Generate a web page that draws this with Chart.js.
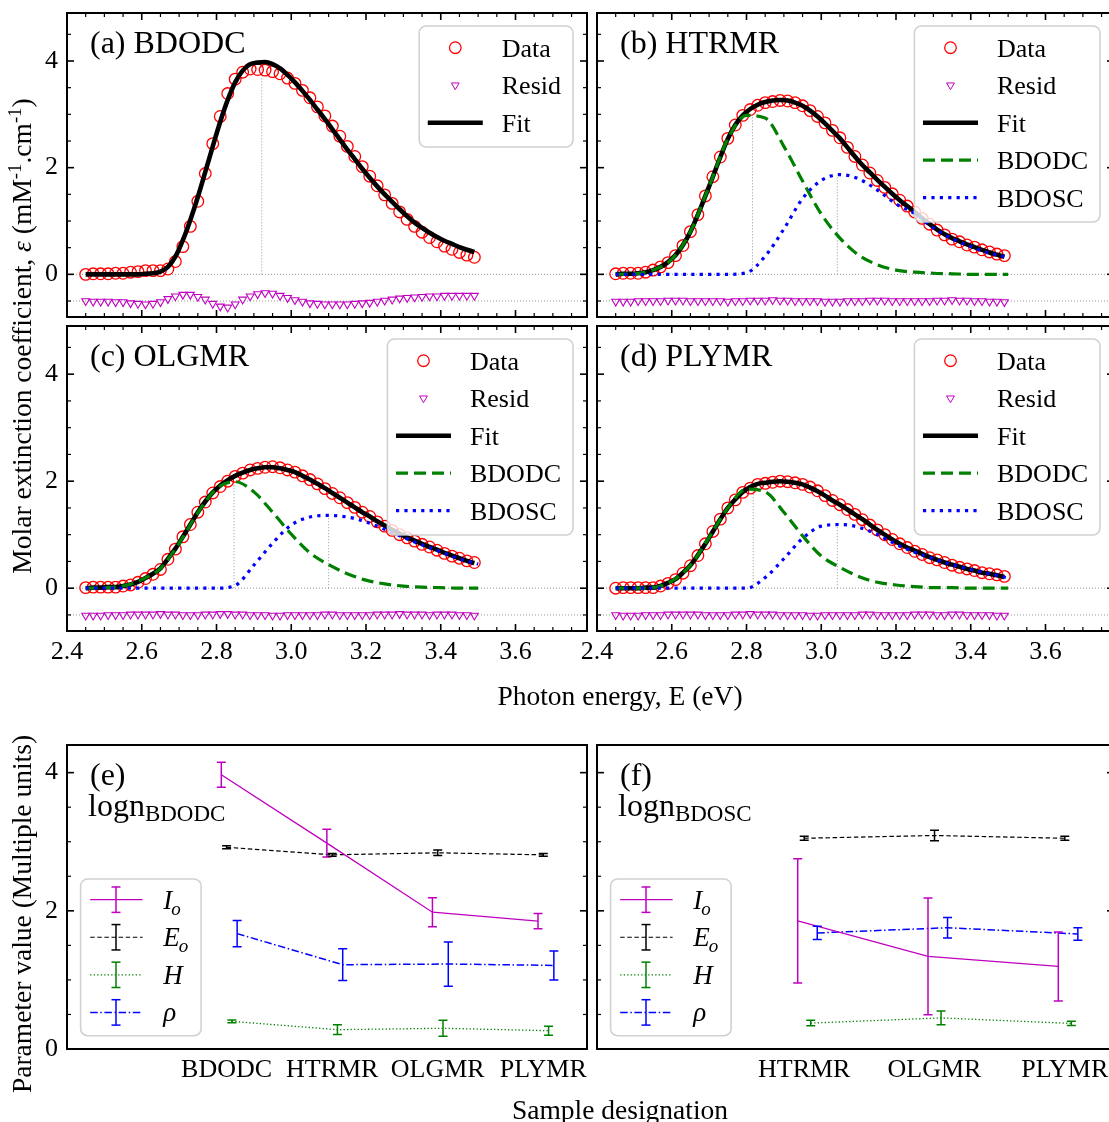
<!DOCTYPE html>
<html>
<head>
<meta charset="utf-8">
<title>Lognormal fits of the absorption bands</title>
<script src="https://cdn.jsdelivr.net/npm/chart.js@4.4.1/dist/chart.umd.min.js"></script>
<style>
  html, body { margin: 0; padding: 0; background: #fff; overflow: hidden; }
  body { position: relative; width: 1109px; height: 1122px; }
  canvas { position: absolute; }
  .txt { position: absolute; font-family: "Liberation Serif", serif; color: #000; white-space: nowrap; line-height: 1; font-size: 27.5px; }
  .rot { transform: translate(-50%, -50%) rotate(-90deg); }
  .ctr { transform: translate(-50%, -50%); }
  sup { font-size: 0.68em; vertical-align: 0.55em; line-height: 0; }
</style>
</head>
<body>
<canvas id="chartA"></canvas>
<canvas id="chartB"></canvas>
<canvas id="chartC"></canvas>
<canvas id="chartD"></canvas>
<canvas id="chartE"></canvas>
<canvas id="chartF"></canvas>
<div class="txt rot" style="left:22px; top:336px;">Molar extinction coefficient, <i>ε</i> (mM<sup>-1</sup>.cm<sup>-1</sup>)</div>
<div class="txt ctr" style="left:620px; top:696px;">Photon energy, E (eV)</div>
<div class="txt rot" style="left:22px; top:914px;">Parameter value (Multiple units)</div>
<div class="txt ctr" style="left:620px; top:1110px;">Sample designation</div>
<script>
Chart.defaults.font.family = '"Liberation Serif", "Times New Roman", serif';
Chart.defaults.font.size = 26;
Chart.defaults.color = '#000';

const RED = '#ff0000', MAGENTA = '#bf00bf', GREEN = '#008000', BLUE = '#0000ff';

// photon energy of the measured points (eV)
const energy = [2.45, 2.47, 2.49, 2.51, 2.53, 2.55, 2.57, 2.59, 2.61, 2.63,
                2.65, 2.67, 2.69, 2.71, 2.73, 2.75, 2.77, 2.79, 2.81, 2.83,
                2.85, 2.87, 2.89, 2.91, 2.93, 2.95, 2.97, 2.99, 3.01, 3.03,
                3.05, 3.07, 3.09, 3.11, 3.13, 3.15, 3.17, 3.19, 3.21, 3.23,
                3.25, 3.27, 3.29, 3.31, 3.33, 3.35, 3.37, 3.39, 3.41, 3.43,
                3.45, 3.47, 3.49];
// energy grid of the two lognormal components
const energyComp = [2.45, 2.50, 2.55, 2.60, 2.65, 2.70, 2.75, 2.80, 2.85, 2.90, 2.95,
                    3.00, 3.05, 3.10, 3.15, 3.20, 3.25, 3.30, 3.35, 3.40, 3.45, 3.50];
const energyTicks = [2.4, 2.6, 2.8, 3.0, 3.2, 3.4, 3.6];
const epsTicks = [0, 2, 4];
const residOffset = -0.5;

// (a) BDODC
const dataA = [0.00, 0.01, 0.01, 0.01, 0.02, 0.02, 0.04, 0.05, 0.07, 0.07,
               0.07, 0.10, 0.24, 0.52, 0.90, 1.37, 1.89, 2.45, 2.96, 3.39,
               3.66, 3.79, 3.85, 3.84, 3.83, 3.80, 3.76, 3.68, 3.58, 3.45,
               3.31, 3.14, 2.97, 2.78, 2.59, 2.40, 2.21, 2.02, 1.84, 1.66,
               1.49, 1.33, 1.17, 1.03, 0.90, 0.79, 0.69, 0.61, 0.53, 0.47,
               0.41, 0.36, 0.32];
const fitA = [0.00, 0.00, 0.00, 0.00, 0.00, 0.00, 0.00, 0.00, 0.01, 0.02,
              0.05, 0.14, 0.33, 0.64, 1.02, 1.45, 1.92, 2.40, 2.86, 3.27,
              3.60, 3.82, 3.94, 3.97, 3.98, 3.94, 3.86, 3.74, 3.60, 3.44,
              3.27, 3.09, 2.91, 2.72, 2.53, 2.34, 2.16, 1.98, 1.81, 1.65,
              1.50, 1.36, 1.22, 1.09, 0.97, 0.87, 0.78, 0.70, 0.63, 0.57,
              0.51, 0.46, 0.42];
const residA = [-0.50, -0.51, -0.51, -0.51, -0.52, -0.52, -0.54, -0.55, -0.56, -0.55,
                -0.52, -0.46, -0.41, -0.38, -0.38, -0.42, -0.47, -0.55, -0.60, -0.62,
                -0.56, -0.47, -0.41, -0.37, -0.35, -0.36, -0.40, -0.44, -0.48, -0.51,
                -0.54, -0.55, -0.56, -0.56, -0.56, -0.56, -0.55, -0.54, -0.53, -0.51,
                -0.49, -0.47, -0.45, -0.44, -0.43, -0.42, -0.41, -0.41, -0.40, -0.40,
                -0.40, -0.40, -0.40];
const peakEnergyA = [2.921];
const peakEpsA = [3.98];

// (b) HTRMR
const dataB = [0.01, 0.02, 0.02, 0.02, 0.04, 0.08, 0.14, 0.22, 0.35, 0.54,
               0.80, 1.12, 1.47, 1.83, 2.20, 2.55, 2.80, 2.98, 3.09, 3.17,
               3.22, 3.24, 3.26, 3.25, 3.22, 3.16, 3.07, 2.96, 2.84, 2.70,
               2.56, 2.38, 2.21, 2.05, 1.90, 1.76, 1.63, 1.51, 1.39, 1.28,
               1.17, 1.05, 0.94, 0.83, 0.74, 0.66, 0.61, 0.55, 0.51, 0.46,
               0.42, 0.38, 0.35];
const fitB = [0.00, 0.01, 0.01, 0.02, 0.04, 0.08, 0.14, 0.23, 0.36, 0.55,
              0.80, 1.12, 1.47, 1.83, 2.20, 2.54, 2.80, 2.98, 3.10, 3.18,
              3.23, 3.26, 3.27, 3.26, 3.22, 3.16, 3.07, 2.96, 2.83, 2.69,
              2.55, 2.38, 2.21, 2.05, 1.91, 1.77, 1.64, 1.51, 1.39, 1.28,
              1.17, 1.05, 0.94, 0.84, 0.75, 0.68, 0.62, 0.56, 0.51, 0.46,
              0.41, 0.37, 0.33];
const residB = [-0.51, -0.51, -0.51, -0.50, -0.50, -0.50, -0.50, -0.49, -0.49, -0.49,
                -0.50, -0.50, -0.50, -0.50, -0.50, -0.51, -0.50, -0.50, -0.49, -0.49,
                -0.49, -0.48, -0.49, -0.49, -0.50, -0.50, -0.50, -0.50, -0.51, -0.51,
                -0.51, -0.50, -0.50, -0.50, -0.49, -0.49, -0.49, -0.50, -0.50, -0.50,
                -0.50, -0.50, -0.50, -0.49, -0.49, -0.48, -0.49, -0.49, -0.50, -0.50,
                -0.51, -0.51, -0.52];
const bdodcB = [0.00, 0.01, 0.08, 0.28, 0.80, 1.65, 2.54, 2.98, 2.93, 2.40, 1.75,
                1.13, 0.68, 0.36, 0.18, 0.08, 0.04, 0.02, 0.01, 0.00, 0.00, 0.00];
const bdoscB = [0.00, 0.00, 0.00, 0.00, 0.00, 0.00, 0.00, 0.03, 0.34, 0.85, 1.42,
                1.76, 1.87, 1.79, 1.58, 1.32, 1.14, 0.87, 0.67, 0.52, 0.40, 0.32];
const peakEnergyB = [2.816, 3.043];
const peakEpsB = [2.99, 1.87];

// (c) OLGMR
const dataC = [0.01, 0.02, 0.02, 0.02, 0.02, 0.04, 0.06, 0.11, 0.18, 0.26,
               0.35, 0.54, 0.73, 0.96, 1.19, 1.42, 1.61, 1.78, 1.90, 2.00,
               2.09, 2.15, 2.21, 2.24, 2.26, 2.27, 2.25, 2.21, 2.17, 2.10,
               2.03, 1.95, 1.86, 1.77, 1.69, 1.60, 1.51, 1.42, 1.34, 1.24,
               1.16, 1.08, 1.00, 0.94, 0.88, 0.82, 0.77, 0.71, 0.65, 0.60,
               0.56, 0.51, 0.48];
const fitC = [0.00, 0.01, 0.01, 0.02, 0.02, 0.04, 0.07, 0.12, 0.19, 0.27,
              0.37, 0.55, 0.74, 0.96, 1.19, 1.42, 1.62, 1.79, 1.92, 2.02,
              2.10, 2.16, 2.21, 2.24, 2.26, 2.26, 2.24, 2.21, 2.17, 2.10,
              2.03, 1.95, 1.87, 1.78, 1.69, 1.60, 1.51, 1.42, 1.34, 1.25,
              1.17, 1.09, 1.02, 0.95, 0.89, 0.83, 0.77, 0.72, 0.66, 0.61,
              0.56, 0.51, 0.47];
const residC = [-0.51, -0.51, -0.51, -0.50, -0.50, -0.50, -0.49, -0.49, -0.49, -0.49,
                -0.48, -0.49, -0.49, -0.50, -0.50, -0.50, -0.49, -0.49, -0.48, -0.48,
                -0.49, -0.49, -0.50, -0.50, -0.50, -0.51, -0.51, -0.50, -0.50, -0.50,
                -0.50, -0.50, -0.49, -0.49, -0.50, -0.50, -0.50, -0.50, -0.50, -0.49,
                -0.49, -0.49, -0.48, -0.49, -0.49, -0.49, -0.50, -0.49, -0.49, -0.49,
                -0.50, -0.50, -0.51];
const bdodcC = [0.00, 0.01, 0.04, 0.16, 0.37, 0.84, 1.41, 1.86, 1.99, 1.80, 1.42,
                1.01, 0.66, 0.44, 0.27, 0.15, 0.08, 0.04, 0.02, 0.01, 0.00, 0.00];
const bdoscC = [0.00, 0.00, 0.00, 0.00, 0.00, 0.00, 0.00, 0.00, 0.05, 0.43, 0.84,
                1.18, 1.33, 1.36, 1.33, 1.24, 1.10, 0.95, 0.81, 0.68, 0.55, 0.45];
const peakEnergyC = [2.847, 3.100];
const peakEpsC = [1.99, 1.36];

// (d) PLYMR
const dataD = [0.00, 0.01, 0.01, 0.01, 0.01, 0.01, 0.04, 0.09, 0.16, 0.28,
               0.42, 0.61, 0.83, 1.06, 1.29, 1.50, 1.65, 1.79, 1.87, 1.94,
               1.96, 1.98, 2.00, 1.99, 1.97, 1.94, 1.89, 1.82, 1.73, 1.64,
               1.56, 1.47, 1.38, 1.28, 1.18, 1.09, 1.00, 0.91, 0.83, 0.76,
               0.69, 0.63, 0.57, 0.53, 0.48, 0.43, 0.39, 0.36, 0.33, 0.29,
               0.27, 0.25, 0.22];
const fitD = [0.00, 0.00, 0.00, 0.00, 0.01, 0.01, 0.04, 0.10, 0.17, 0.29,
              0.43, 0.62, 0.83, 1.06, 1.29, 1.50, 1.66, 1.80, 1.89, 1.95,
              1.97, 1.99, 2.00, 1.99, 1.97, 1.94, 1.88, 1.81, 1.73, 1.64,
              1.56, 1.47, 1.38, 1.29, 1.19, 1.09, 1.00, 0.91, 0.83, 0.76,
              0.70, 0.64, 0.58, 0.53, 0.48, 0.44, 0.40, 0.36, 0.33, 0.29,
              0.27, 0.24, 0.21];
const residD = [-0.50, -0.51, -0.51, -0.51, -0.50, -0.50, -0.50, -0.49, -0.49, -0.49,
                -0.49, -0.49, -0.50, -0.50, -0.50, -0.50, -0.49, -0.49, -0.48, -0.49,
                -0.49, -0.49, -0.50, -0.50, -0.50, -0.50, -0.51, -0.51, -0.50, -0.50,
                -0.50, -0.50, -0.50, -0.49, -0.49, -0.50, -0.50, -0.50, -0.50, -0.50,
                -0.49, -0.49, -0.49, -0.50, -0.50, -0.49, -0.49, -0.50, -0.50, -0.50,
                -0.50, -0.51, -0.51];
const bdodcD = [0.00, 0.00, 0.01, 0.13, 0.43, 0.95, 1.50, 1.85, 1.80, 1.42, 0.98,
                0.60, 0.39, 0.22, 0.11, 0.06, 0.03, 0.01, 0.01, 0.00, 0.00, 0.00];
const bdoscD = [0.00, 0.00, 0.00, 0.00, 0.00, 0.00, 0.00, 0.00, 0.20, 0.55, 0.93,
                1.16, 1.19, 1.14, 1.00, 0.82, 0.67, 0.55, 0.44, 0.35, 0.27, 0.19];
const peakEnergyD = [2.818, 3.043];
const peakEpsD = [1.86, 1.20];

// (e) logn BDODC parameters
const samplesE = ['BDODC', 'HTRMR', 'OLGMR', 'PLYMR'];
const ioE = [3.97, 2.98, 1.98, 1.85];
const ioErrE = [0.18, 0.20, 0.21, 0.11];
const eoE = [2.92, 2.81, 2.84, 2.81];
const eoErrE = [0.02, 0.02, 0.04, 0.02];
const hE = [0.40, 0.28, 0.30, 0.265];
const hErrE = [0.02, 0.07, 0.115, 0.065];
const rhoE = [1.67, 1.22, 1.23, 1.21];
const rhoErrE = [0.19, 0.23, 0.32, 0.21];

// (f) logn BDOSC parameters
const samplesF = ['HTRMR', 'OLGMR', 'PLYMR'];
const ioF = [1.855, 1.34, 1.195];
const ioErrF = [0.90, 0.845, 0.50];
const eoF = [3.05, 3.09, 3.05];
const eoErrF = [0.03, 0.075, 0.03];
const hF = [0.375, 0.45, 0.37];
const hErrF = [0.04, 0.10, 0.03];
const rhoF = [1.68, 1.755, 1.665];
const rhoErrF = [0.095, 0.15, 0.09];
const paramTicks = [0, 2, 4];
const seriesShift = [0, 0.05, 0.10, 0.15];

// ---- layout (px) ----
const AXIS_W = 67, PAD_TOP = 30, AXIS_H = 52, PAD_RIGHT = 30;
const COL_L = [67, 597], COL_W = [520, 517];
const ROW_T = [13, 326, 745], ROW_H = [304, 305, 304.3];
const TRI_R = 4.5, CIRC_R = 5.8;

function place(id, left, top, w, h) {
  const cv = document.getElementById(id);
  cv.width = AXIS_W + w + PAD_RIGHT;
  cv.height = Math.round(PAD_TOP + h + AXIS_H);
  cv.style.left = (left - AXIS_W) + 'px';
  cv.style.top = (top - PAD_TOP) + 'px';
  return cv;
}

const pts = (xs, ys) => ys.map((y, i) => ({ x: xs[i], y: y }));

function seg(ctx, x1, y1, x2, y2) {
  ctx.beginPath(); ctx.moveTo(x1, y1); ctx.lineTo(x2, y2); ctx.stroke();
}

function roundBox(ctx, x, y, w, h, r) {
  ctx.beginPath();
  ctx.moveTo(x + r, y);
  ctx.arcTo(x + w, y, x + w, y + h, r);
  ctx.arcTo(x + w, y + h, x, y + h, r);
  ctx.arcTo(x, y + h, x, y, r);
  ctx.arcTo(x, y, x + w, y, r);
  ctx.closePath();
  ctx.fillStyle = 'rgba(255,255,255,0.8)';
  ctx.fill();
  ctx.strokeStyle = 'rgba(204,204,204,0.9)';
  ctx.lineWidth = 1.6;
  ctx.stroke();
}

// frame + inward ticks
const frameTicks = {
  id: 'frameTicks',
  afterDraw(chart, args, o) {
    const { ctx, chartArea: a } = chart;
    const xs = chart.scales.x, ys = chart.scales.y;
    ctx.save();
    ctx.strokeStyle = '#000';
    if (o.xMinor) {
      for (let k = 0; ; k++) {
        const v = xs.min + k * o.xMinor;
        if (v > xs.max + 1e-9) break;
        const p = xs.getPixelForValue(v);
        const major = k % o.xEvery === 0;
        const len = major ? 7 : 4;
        ctx.lineWidth = major ? 1.6 : 1.2;
        seg(ctx, p, a.top, p, a.top + len);
        seg(ctx, p, a.bottom, p, a.bottom - len);
      }
    }
    for (let v = -1; v <= ys.max + 1e-9; v += 0.5) {
      if (v < ys.min - 1e-9) continue;
      const p = ys.getPixelForValue(v);
      const major = Math.abs(v / 2 - Math.round(v / 2)) < 1e-6;
      const len = major ? 7 : 4;
      ctx.lineWidth = major ? 1.6 : 1.2;
      seg(ctx, a.left, p, a.left + len, p);
      seg(ctx, a.right, p, a.right - len, p);
    }
    ctx.lineWidth = 2;
    ctx.strokeRect(a.left, a.top, a.right - a.left, a.bottom - a.top);
    ctx.restore();
  }
};

// dotted zero / residual baselines and the component peak markers
const refLines = {
  id: 'refLines',
  beforeDatasetsDraw(chart, args, o) {
    if (!o.levels) return;
    const { ctx, chartArea: a } = chart;
    const xs = chart.scales.x, ys = chart.scales.y;
    ctx.save();
    ctx.strokeStyle = '#8a8a8a';
    ctx.lineWidth = 0.9;
    ctx.setLineDash([1, 2]);
    o.levels.forEach(v => {
      const y = ys.getPixelForValue(v);
      seg(ctx, a.left, y, a.right, y);
    });
    o.peakE.forEach((e, i) => {
      const x = xs.getPixelForValue(e);
      seg(ctx, x, ys.getPixelForValue(0), x, ys.getPixelForValue(o.peakEps[i]));
    });
    ctx.restore();
  }
};

const errorBars = {
  id: 'errorBars',
  afterDatasetsDraw(chart) {
    const { ctx } = chart;
    const xs = chart.scales.x, ys = chart.scales.y;
    ctx.save();
    ctx.setLineDash([]);
    chart.data.datasets.forEach(ds => {
      if (!ds.errorBars) return;
      ctx.strokeStyle = ds.borderColor;
      ctx.lineWidth = 1.5;
      ds.data.forEach((p, i) => {
        const e = ds.errorBars[i];
        const x = xs.getPixelForValue(p.x);
        const yl = ys.getPixelForValue(p.y - e), yh = ys.getPixelForValue(p.y + e);
        ctx.beginPath();
        ctx.moveTo(x, yl); ctx.lineTo(x, yh);
        ctx.moveTo(x - 4.5, yl); ctx.lineTo(x + 4.5, yl);
        ctx.moveTo(x - 4.5, yh); ctx.lineTo(x + 4.5, yh);
        ctx.stroke();
      });
    });
    ctx.restore();
  }
};

const panelText = {
  id: 'panelText',
  afterDatasetsDraw(chart, args, o) {
    const { ctx, chartArea: a } = chart;
    ctx.save();
    ctx.fillStyle = '#000';
    ctx.textBaseline = 'alphabetic';
    ctx.font = '32px "Liberation Serif"';
    ctx.fillText(o.title, a.left + 23, a.top + 40);
    if (o.sub) {
      ctx.fillText('logn', a.left + 21, a.top + 71);
      const w = ctx.measureText('logn').width;
      ctx.font = '23px "Liberation Serif"';
      ctx.fillText(o.sub, a.left + 21 + w, a.top + 76);
    }
    ctx.restore();
  }
};

const legendBox = {
  id: 'legendBox',
  afterDatasetsDraw(chart, args, o) {
    if (!o.items) return;
    const { ctx, chartArea: a } = chart;
    ctx.save();
    ctx.textBaseline = 'alphabetic';
    if (o.kind === 'spectrum') {
      ctx.font = '26px "Liberation Serif"';
      const tw = Math.max(...o.items.map(it => ctx.measureText(it.label).width));
      const w = 8.6 + 55 + 19 + tw + 12;
      const h = 46 + (o.items.length - 1) * 37.5;
      const left = a.right - 14 - w, top = a.top + 13;
      roundBox(ctx, left, top, w, h, 7);
      o.items.forEach((it, i) => {
        const cy = top + 21.7 + i * 37.5;
        const x0 = left + 8.6, x1 = x0 + 55, xm = (x0 + x1) / 2;
        ctx.strokeStyle = it.color;
        if (it.marker === 'circle') {
          ctx.lineWidth = 1.3;
          ctx.beginPath(); ctx.arc(xm, cy, CIRC_R, 0, Math.PI * 2); ctx.stroke();
        } else if (it.marker === 'triangle') {
          const r = TRI_R, s = r * Math.sin(Math.PI / 3);
          ctx.lineWidth = 1;
          ctx.beginPath();
          ctx.moveTo(xm, cy + r); ctx.lineTo(xm - s, cy - r / 2); ctx.lineTo(xm + s, cy - r / 2);
          ctx.closePath(); ctx.stroke();
        } else {
          ctx.lineWidth = it.width;
          ctx.setLineDash(it.dash);
          seg(ctx, x0, cy, x1, cy);
          ctx.setLineDash([]);
        }
        ctx.fillStyle = '#000';
        ctx.fillText(it.label, x1 + 19, cy + 8.8);
      });
    } else {
      const n = o.items.length;
      const w = 120.5, h = 20.7 + (n - 1) * 37.57 + 23.3;
      const left = a.left + 13.6, top = a.bottom - 13.3 - h;
      roundBox(ctx, left, top, w, h, 7);
      o.items.forEach((it, i) => {
        const cy = top + 20.7 + i * 37.57;
        const x0 = left + 9.6, x1 = left + 62, xm = left + 35.4;
        ctx.strokeStyle = it.color;
        ctx.lineWidth = it.width;
        ctx.setLineDash(it.dash);
        seg(ctx, x0, cy, x1, cy);
        ctx.setLineDash([]);
        ctx.lineWidth = 1.5;
        seg(ctx, xm, cy - 12.7, xm, cy + 12.7);
        seg(ctx, xm - 4.5, cy - 12.7, xm + 4.5, cy - 12.7);
        seg(ctx, xm - 4.5, cy + 12.7, xm + 4.5, cy + 12.7);
        ctx.fillStyle = '#000';
        ctx.font = 'italic 27px "Liberation Serif"';
        const tx = left + 82.6;
        ctx.fillText(it.sym, tx, cy + 9);
        if (it.sub) {
          const sw = ctx.measureText(it.sym).width;
          ctx.font = 'italic 19px "Liberation Serif"';
          ctx.fillText(it.sub, tx + sw - 1, cy + 15);
        }
      });
    }
    ctx.restore();
  }
};

const PLUGINS = [refLines, errorBars, panelText, legendBox, frameTicks];

function spectrumChart(id, col, row, title, d) {
  const left = COL_L[col], top = ROW_T[row], width = COL_W[col], height = ROW_H[row];
  const cv = place(id, left, top, width, height);
  const xMax = 2.4 + width / 373.75;
  const sets = [
    { label: 'Data', data: pts(energy, d.data), showLine: false, pointStyle: 'circle',
      pointRadius: CIRC_R, pointBorderWidth: 1.3, pointBorderColor: RED,
      pointBackgroundColor: 'rgba(0,0,0,0)', order: 5 },
    { label: 'Resid', data: pts(energy, d.resid), showLine: false, pointStyle: 'triangle',
      pointRotation: 180, pointRadius: TRI_R, pointBorderWidth: 1.1, pointBorderColor: MAGENTA,
      pointBackgroundColor: 'rgba(0,0,0,0)', order: 4 },
    { label: 'Fit', data: pts(energy, d.fit), borderColor: '#000',
      borderWidth: 4.6, pointRadius: 0, cubicInterpolationMode: 'monotone', order: 3 }
  ];
  const items = [
    { label: 'Data', marker: 'circle', color: RED },
    { label: 'Resid', marker: 'triangle', color: MAGENTA },
    { label: 'Fit', marker: 'line', color: '#000', width: 4.6, dash: [] }
  ];
  if (d.bdodc) {
    sets.push({ label: 'BDODC', data: pts(energyComp, d.bdodc), borderColor: GREEN,
      borderWidth: 3.2, borderDash: [12, 6], pointRadius: 0,
      cubicInterpolationMode: 'monotone', order: 2 });
    sets.push({ label: 'BDOSC', data: pts(energyComp, d.bdosc), borderColor: BLUE,
      borderWidth: 3.2, borderDash: [3.2, 5.2], pointRadius: 0,
      cubicInterpolationMode: 'monotone', order: 1 });
    items.push({ label: 'BDODC', marker: 'line', color: GREEN, width: 3.2, dash: [12, 6] });
    items.push({ label: 'BDOSC', marker: 'line', color: BLUE, width: 3.2, dash: [3.2, 5.2] });
  }
  return new Chart(cv, {
    type: 'line',
    data: { datasets: sets },
    options: {
      responsive: false, animation: false, events: [],
      layout: { padding: { top: PAD_TOP, right: PAD_RIGHT, left: 0, bottom: 0 } },
      plugins: {
        legend: { display: false }, tooltip: { enabled: false },
        refLines: { levels: [0, residOffset], peakE: d.peakE, peakEps: d.peakEps },
        panelText: { title: title },
        legendBox: { kind: 'spectrum', items: items },
        frameTicks: { xMinor: 0.05, xEvery: 4 }
      },
      scales: {
        x: {
          type: 'linear', min: 2.4, max: xMax,
          border: { display: false }, grid: { display: false, drawTicks: false },
          afterBuildTicks: s => { s.ticks = energyTicks.map(v => ({ value: v })); },
          afterFit: s => { s.height = AXIS_H; },
          ticks: { display: row === 1, padding: 6, autoSkip: false, maxRotation: 0,
                   callback: v => Number(v).toFixed(1) }
        },
        y: {
          type: 'linear', min: -0.8, max: 4.9,
          border: { display: false }, grid: { display: false, drawTicks: false },
          afterBuildTicks: s => { s.ticks = epsTicks.map(v => ({ value: v })); },
          afterFit: s => { s.width = AXIS_W; },
          ticks: { display: col === 0, padding: 9, callback: v => String(v) }
        }
      }
    },
    plugins: PLUGINS
  });
}

function paramChart(id, col, title, sub, names, firstPx, stepPx, p) {
  const left = COL_L[col], top = ROW_T[2], width = COL_W[col], height = ROW_H[2];
  const cv = place(id, left, top, width, height);
  const xMin = -(firstPx - left) / stepPx;
  const xMax = xMin + width / stepPx;
  const styles = [
    { color: MAGENTA, width: 1.3, dash: [], sym: 'I', sub: 'o' },
    { color: '#000', width: 1.2, dash: [4.5, 2.6], sym: 'E', sub: 'o' },
    { color: GREEN, width: 1.3, dash: [1.3, 2.2], sym: 'H', sub: '' },
    { color: BLUE, width: 1.5, dash: [7.5, 2.6, 1.5, 2.6], sym: 'ρ', sub: '' }
  ];
  const sets = p.map((s, k) => ({
    label: styles[k].sym + styles[k].sub,
    data: s.vals.map((v, i) => ({ x: i + seriesShift[k], y: v })),
    errorBars: s.errs,
    borderColor: styles[k].color, borderWidth: styles[k].width, borderDash: styles[k].dash,
    pointRadius: 0, tension: 0
  }));
  return new Chart(cv, {
    type: 'line',
    data: { datasets: sets },
    options: {
      responsive: false, animation: false, events: [],
      layout: { padding: { top: PAD_TOP, right: PAD_RIGHT, left: 0, bottom: 0 } },
      plugins: {
        legend: { display: false }, tooltip: { enabled: false },
        refLines: {},
        panelText: { title: title, sub: sub },
        legendBox: { kind: 'param', items: styles },
        frameTicks: {}
      },
      scales: {
        x: {
          type: 'linear', min: xMin, max: xMax,
          border: { display: false }, grid: { display: false, drawTicks: false },
          afterBuildTicks: s => { s.ticks = names.map((n, i) => ({ value: i + seriesShift[1] })); },
          afterFit: s => { s.height = AXIS_H; },
          ticks: { padding: 6, autoSkip: false, maxRotation: 0, callback: (v, i) => names[i] }
        },
        y: {
          type: 'linear', min: 0, max: 4.4,
          border: { display: false }, grid: { display: false, drawTicks: false },
          afterBuildTicks: s => { s.ticks = paramTicks.map(v => ({ value: v })); },
          afterFit: s => { s.width = AXIS_W; },
          ticks: { display: col === 0, padding: 9, callback: v => String(v) }
        }
      }
    },
    plugins: PLUGINS
  });
}

spectrumChart('chartA', 0, 0, '(a) BDODC',
  { data: dataA, fit: fitA, resid: residA, peakE: peakEnergyA, peakEps: peakEpsA });
spectrumChart('chartB', 1, 0, '(b) HTRMR',
  { data: dataB, fit: fitB, resid: residB, bdodc: bdodcB, bdosc: bdoscB, peakE: peakEnergyB, peakEps: peakEpsB });
spectrumChart('chartC', 0, 1, '(c) OLGMR',
  { data: dataC, fit: fitC, resid: residC, bdodc: bdodcC, bdosc: bdoscC, peakE: peakEnergyC, peakEps: peakEpsC });
spectrumChart('chartD', 1, 1, '(d) PLYMR',
  { data: dataD, fit: fitD, resid: residD, bdodc: bdodcD, bdosc: bdoscD, peakE: peakEnergyD, peakEps: peakEpsD });

paramChart('chartE', 0, '(e)', 'BDODC', samplesE, 221.3, 105.57, [
  { vals: ioE, errs: ioErrE }, { vals: eoE, errs: eoErrE },
  { vals: hE, errs: hErrE }, { vals: rhoE, errs: rhoErrE }
]);
paramChart('chartF', 1, '(f)', 'BDOSC', samplesF, 797.7, 130.3, [
  { vals: ioF, errs: ioErrF }, { vals: eoF, errs: eoErrF },
  { vals: hF, errs: hErrF }, { vals: rhoF, errs: rhoErrF }
]);
</script>
</body>
</html>
